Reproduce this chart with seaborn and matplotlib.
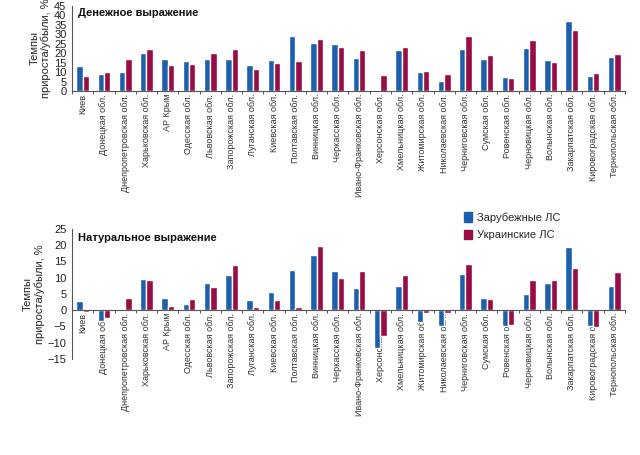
import numpy as np
import pandas as pd
import matplotlib
matplotlib.use("Agg")
import matplotlib.pyplot as plt
import matplotlib.patches as mpatches
from matplotlib.ticker import FixedLocator
import seaborn as sns

regions = ["Киев", "Донецкая обл.", "Днепропетровская обл.", "Харьковская обл.",
           "АР Крым", "Одесская обл.", "Львовская обл.", "Запорожская обл.",
           "Луганская обл.", "Киевская обл.", "Полтавская обл.", "Винницкая обл.",
           "Черкасская обл.", "Ивано-Франковская обл.", "Херсонская обл.",
           "Хмельницкая обл.", "Житомирская обл.", "Николаевская обл.",
           "Черниговская обл.", "Сумская обл.", "Ровенская обл.", "Черновицкая обл.",
           "Волынская обл.", "Закарпатская обл.", "Кировоградская обл.",
           "Тернопольская обл."]

series_names = ["Зарубежные ЛС", "Украинские ЛС"]

money_foreign = [13.4, 9.0, 9.9, 20.3, 17.1, 15.9, 17.1, 16.8, 13.8, 16.4, 29.3, 25.2,
                 24.7, 17.6, 0.5, 21.5, 9.9, 5.3, 22.0, 17.1, 7.2, 22.8, 16.2, 37.2,
                 8.1, 17.8]
money_ukr = [7.9, 9.9, 16.8, 22.0, 13.8, 14.1, 20.3, 22.0, 11.5, 15.0, 15.7, 27.3,
             23.5, 21.7, 8.5, 23.5, 10.8, 9.2, 29.3, 19.0, 6.7, 27.2, 15.5, 32.5,
             9.5, 19.6]

nat_foreign = [2.7, -3.4, 0.4, 9.7, 3.7, 2.0, 8.3, 10.8, 3.0, 5.5, 12.3, 16.9,
               11.9, 6.8, -11.5, 7.4, -3.7, -4.8, 11.1, 3.9, -4.8, 5.1, 8.5, 19.4,
               -4.8, 7.5]
nat_ukr = [-0.5, -2.5, 3.9, 9.2, 1.3, 3.3, 7.2, 14.0, 0.9, 3.1, 0.9, 19.7,
           10.0, 12.0, -8.0, 10.7, -0.9, -0.9, 14.2, 3.5, -4.4, 9.2, 9.2, 12.9,
           -5.2, 11.6]

titles = ["Денежное выражение", "Натуральное выражение"]
ylabel = "Темпы\nприроста/убыли, %"

colors = ["#1c5fae", "#990c46"]

sns.set_style("white")
plt.rcParams['font.family'] = ['Liberation Sans', 'DejaVu Sans']


def long_df(a, b):
    return pd.DataFrame({
        "region": regions * 2,
        "value": list(a) + list(b),
        "series": [series_names[0]] * len(regions) + [series_names[1]] * len(regions),
    })


fig = plt.figure(figsize=(6.4, 4.55), dpi=100)
ax1 = fig.add_axes([0.1125, 0.800, 0.864, 0.187])
ax2 = fig.add_axes([0.1125, 0.211, 0.864, 0.286])

specs = [
    (ax1, long_df(money_foreign, money_ukr), (0, 45), np.arange(0, 46, 5), titles[0], False),
    (ax2, long_df(nat_foreign, nat_ukr), (-15, 25), np.arange(-15, 26, 5), titles[1], True),
]

for ax, df, ylim, yticks, title, zero_axis in specs:
    sns.barplot(data=df, x="region", y="value", hue="series", palette=colors,
                width=0.6, ax=ax, legend=False, saturation=1, errorbar=None)
    if zero_axis:
        ax.spines['bottom'].set_position(('data', 0))
    ax.set_xlim(-0.5, len(regions) - 0.5)
    ax.set_ylim(*ylim)
    ax.set_yticks(yticks)
    ax.set_xlabel("")
    ax.set_ylabel(ylabel, fontsize=8, color="#222222", labelpad=2, linespacing=1.15)
    ax.spines['top'].set_visible(False)
    ax.spines['right'].set_visible(False)
    for s in ('left', 'bottom'):
        ax.spines[s].set_color("#555555")
        ax.spines[s].set_linewidth(0.8)
    ax.set_xticks(range(len(regions)))
    ax.set_xticklabels(regions, rotation=90, fontsize=6.5, color="#333333")
    ax.tick_params(axis='x', which='major', length=0, pad=2)
    ax.xaxis.set_minor_locator(FixedLocator(np.arange(-0.5, len(regions), 1.0)))
    ax.tick_params(axis='x', which='minor', length=2.5, width=0.7, color="#555555", bottom=True)
    ax.tick_params(axis='y', which='major', length=3, width=0.7, color="#555555",
                   labelsize=8, pad=1, labelcolor="#222222")
    ax.text(0.01, 0.97, title, transform=ax.transAxes, fontsize=8, fontweight='bold',
            ha='left', va='top', color="#111111")

handles = [mpatches.Patch(color=c, label=n) for c, n in zip(colors, series_names)]
fig.legend(handles=handles, loc='upper left', bbox_to_anchor=(0.71, 0.555),
           frameon=False, fontsize=8, handlelength=0.7, handleheight=0.9,
           handletextpad=0.4, labelspacing=0.6)

fig.savefig("out.png", dpi=100)
